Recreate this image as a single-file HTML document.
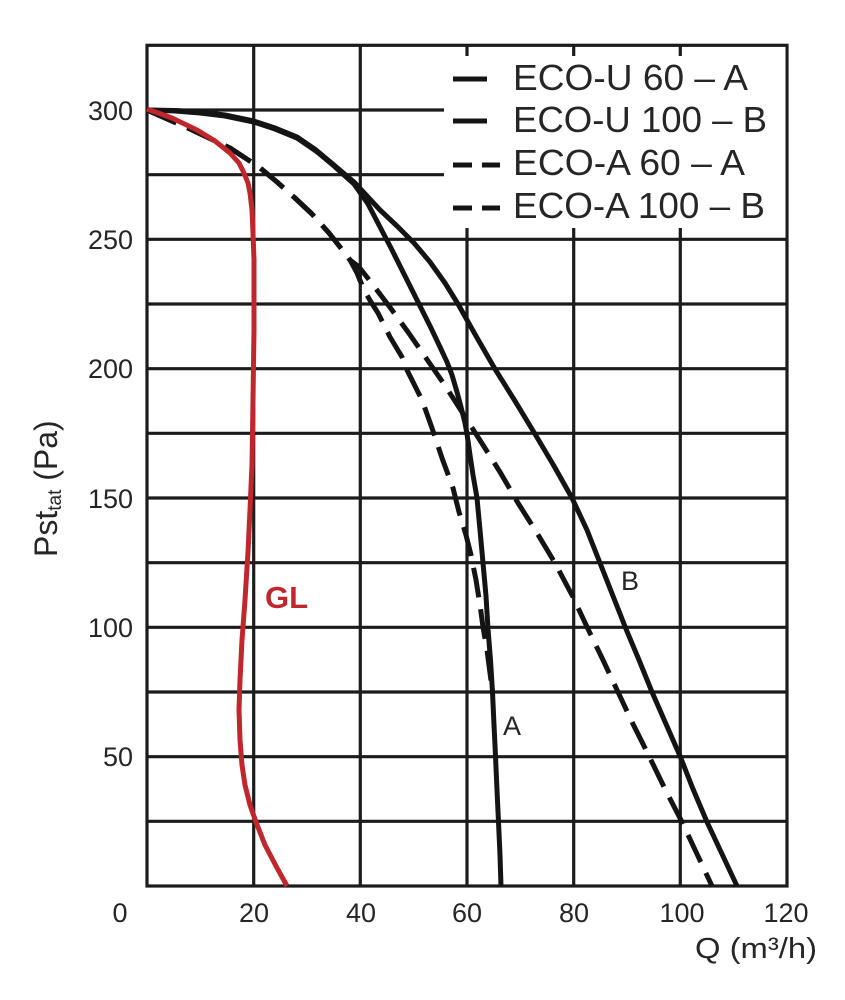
<!DOCTYPE html>
<html><head><meta charset="utf-8"><style>
html,body{margin:0;padding:0;background:#fff;}
svg{display:block;}
text{font-family:"Liberation Sans",Arial,sans-serif;fill:#262626;}
</style></head><body>
<svg width="845" height="1000" viewBox="0 0 845 1000" xmlns="http://www.w3.org/2000/svg">
<rect width="845" height="1000" fill="#fff"/>
<g stroke="#1c1c1c" stroke-width="3.2" fill="none">
<line x1="147" y1="110" x2="787" y2="110"/>
<line x1="147" y1="174.7" x2="787" y2="174.7"/>
<line x1="147" y1="239.3" x2="787" y2="239.3"/>
<line x1="147" y1="304" x2="787" y2="304"/>
<line x1="147" y1="368.7" x2="787" y2="368.7"/>
<line x1="147" y1="433.3" x2="787" y2="433.3"/>
<line x1="147" y1="498" x2="787" y2="498"/>
<line x1="147" y1="562.7" x2="787" y2="562.7"/>
<line x1="147" y1="627.3" x2="787" y2="627.3"/>
<line x1="147" y1="692" x2="787" y2="692"/>
<line x1="147" y1="756.7" x2="787" y2="756.7"/>
<line x1="147" y1="821.3" x2="787" y2="821.3"/>
<line x1="253.7" y1="45.3" x2="253.7" y2="886"/>
<line x1="360.3" y1="45.3" x2="360.3" y2="886"/>
<line x1="467" y1="45.3" x2="467" y2="886"/>
<line x1="573.7" y1="45.3" x2="573.7" y2="886"/>
<line x1="680.3" y1="45.3" x2="680.3" y2="886"/>
<rect x="147" y="45.3" width="640" height="840.7"/>
</g>
<g stroke="#141414" stroke-width="5" fill="none" stroke-linejoin="round" stroke-linecap="butt">
<!-- ECO-U 60 A -->
<polyline points="147,110 175,111 200,113 225,116 253.7,122 275,129 297,138 316,151 334,166 354,184 368,204 380,227 391,248 401,268 412,290 422,310 431,328 440,347 447,362 452,375 457,392 461,407 465,423 467,434 470,455 473,475 477,498 480,530 483,563 486,596 488,629 490.5,660 492.5,692 494,725 495.5,756 497,790 498.5,822 500,855 501,886"/>
<!-- ECO-U 100 B -->
<polyline points="147,110 175,110.5 200,112 225,115 253.7,121 275,128 297,137 316,150 334,165 354,182 367,196 380,210 397,226 414,243 430,262 445,283 458,304 476,336 495,369 515,401 535,434 554,466 572,498 587,530 600,563 613,596 626,629 639,660 652,692 666,724 680,756 693,789 707,822 722,854 737,886"/>
<!-- ECO-A 60 A dashed -->
<polyline stroke-dasharray="30 12" stroke-dashoffset="-2" points="147,110 190,129 230,148 259,167 277,182 295,198 312,214 329,233 340,247 350,260 357,273 364,290 371,302 378,313 390,337 402,357 407,370 422,400 432,428 442,458 453,488 459,512 466,535 471,555 476,580 480,605 483,627 487,650 490,673 492.5,692"/>
<!-- ECO-A 100 B dashed -->
<polyline stroke-dasharray="30 12" stroke-dashoffset="-2" points="147,110 190,129 230,148 259,167 277,182 295,198 312,214 329,233 340,247 350,260 359,267 370,281 389,306 408,332 426,358 444,384 462,412 483,445 500,472 518,503 537,533 555,563 573,597 588,629 603,660 618,692 633,724 649,756 665,789 682,822 697,854 712,886"/>
</g>
<!-- GL red -->
<polyline fill="none" stroke="#c0272d" stroke-width="5" stroke-linejoin="round" points="147,109 172,118 197,130 215,141 230,153 239,163 244,173 248,183 250,193 252,210 253,233 254,260 254,330 253,400 252,464 250,510 248,552 245,600 242,640 240,680 239,710 240,740 242,765 245,785 250,805 256,822 265,845 276,866 287,886"/>
<!-- legend -->
<rect x="444" y="47" width="341.5" height="190.5" fill="#fff"/>
<g stroke="#1c1c1c" stroke-width="3.2">
<line x1="467" y1="45" x2="467" y2="56"/>
<line x1="573.7" y1="45" x2="573.7" y2="56"/>
<line x1="680.3" y1="45" x2="680.3" y2="56"/>
<line x1="467" y1="228" x2="467" y2="240"/>
<line x1="573.7" y1="228" x2="573.7" y2="240"/>
<line x1="680.3" y1="228" x2="680.3" y2="240"/>
</g>
<g stroke="#141414" stroke-width="5">
<line x1="453" y1="79" x2="487" y2="79"/>
<line x1="453" y1="121" x2="487" y2="121"/>
<line x1="453" y1="165" x2="472" y2="165"/>
<line x1="482" y1="165" x2="500" y2="165"/>
<line x1="453" y1="208" x2="472" y2="208"/>
<line x1="482" y1="208" x2="500" y2="208"/>
</g>
<g font-size="36">
<text x="513" y="90" textLength="235" lengthAdjust="spacingAndGlyphs">ECO-U 60 – A</text>
<text x="513" y="132" textLength="254" lengthAdjust="spacingAndGlyphs">ECO-U 100 – B</text>
<text x="513" y="175" textLength="232" lengthAdjust="spacingAndGlyphs">ECO-A 60 – A</text>
<text x="513" y="218" textLength="252" lengthAdjust="spacingAndGlyphs">ECO-A 100 – B</text>
</g>
<!-- y ticks -->
<g font-size="27" text-anchor="end">
<text x="133" y="120">300</text>
<text x="133" y="249">250</text>
<text x="133" y="378">200</text>
<text x="133" y="508">150</text>
<text x="133" y="637">100</text>
<text x="133" y="766">50</text>
</g>
<!-- x ticks -->
<g font-size="27" text-anchor="middle">
<text x="120" y="922">0</text>
<text x="254" y="922">20</text>
<text x="361" y="922">40</text>
<text x="467" y="922">60</text>
<text x="574" y="922">80</text>
<text x="682" y="922">100</text>
<text x="786" y="922">120</text>
</g>
<text x="695" y="958" font-size="29" textLength="122" lengthAdjust="spacingAndGlyphs">Q (m³/h)</text>
<text transform="translate(57,557) rotate(-90)" font-size="32">Pst<tspan font-size="19" dy="4">tat</tspan><tspan font-size="32" dy="-4"> (Pa)</tspan></text>
<text x="265" y="608" font-size="31" font-weight="bold" style="fill:#c0272d">GL</text>
<text x="503" y="735" font-size="27">A</text>
<text x="621" y="590" font-size="27">B</text>
</svg>
</body></html>
